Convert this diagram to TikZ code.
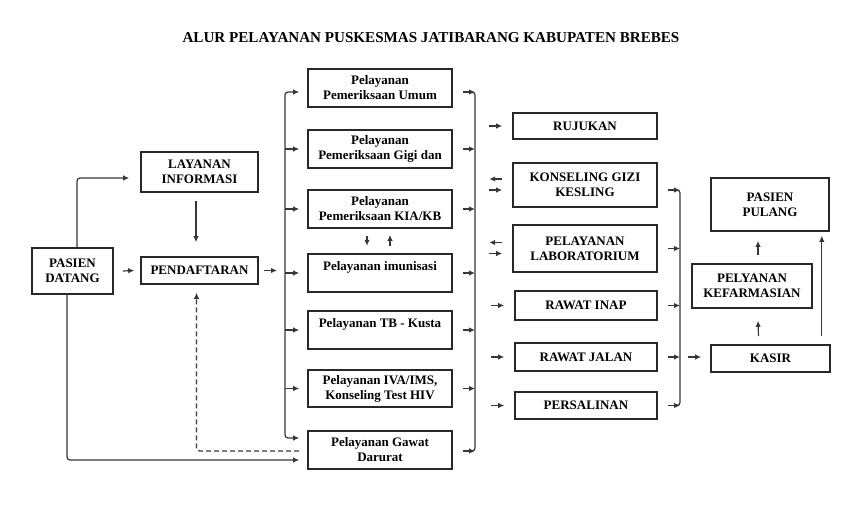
\documentclass[tikz,border=0pt]{standalone}
\usepackage{fontspec}
\setmainfont{Liberation Serif}
\usepackage{xcolor}
\definecolor{boxline}{RGB}{40,40,40}
\definecolor{arrline}{RGB}{55,55,55}
\usetikzlibrary{positioning, arrows.meta}

\begin{document}
\begin{tikzpicture}[
    % GLOBAL CFG
    x=1pt, y=-1pt,
    font=\fontsize{13}{15}\selectfont\bfseries,
    >={Latex[length=6pt,width=5.5pt]},
    % Styles
    unit/.style={% For the service boxes
        rectangle,
        draw=boxline,
        line width=1.6pt,
        align=center,
        inner sep=1pt,
        minimum width=144pt,
        },
    flow/.style={% Connectors
        draw=arrline,
        line width=1.2pt,
        rounded corners=3pt,
        },
    ]
    \useasboundingbox (0,0) rectangle (857,521);

    % Title
    \node [font=\fontsize{15.1}{17}\selectfont\bfseries] (title) at (431,38)
        {ALUR PELAYANAN PUSKESMAS JATIBARANG KABUPATEN BREBES};

    % Entry column
    \node [unit, minimum width=81pt, minimum height=46pt] (pasien) at (72.5,271) {PASIEN\\DATANG};
    \node [unit, minimum width=117pt, minimum height=40pt] (info) at (199.5,172) {LAYANAN\\INFORMASI};
    \node [unit, minimum width=117pt, minimum height=27pt] (daftar) at (199.5,270.5) {PENDAFTARAN};

    % Services named by their unit
    \node [unit, minimum height=38pt] (umum) at (380,88) {Pelayanan\\Pemeriksaan Umum};
    \node [unit, minimum height=38pt] (gigi) at (380,149) {Pelayanan\\Pemeriksaan Gigi dan};
    \node [unit, minimum height=38pt] (kia) at (380,209) {Pelayanan\\Pemeriksaan KIA/KB};
    \node [unit, minimum height=38pt, text depth=14pt] (imun) at (380,273) {Pelayanan imunisasi};
    \node [unit, minimum height=38pt, text depth=14pt] (tb) at (380,330) {Pelayanan TB - Kusta};
    \node [unit, minimum height=37pt] (iva) at (380,388.5) {Pelayanan IVA/IMS,\\Konseling Test HIV};
    \node [unit, minimum height=38pt] (gawat) at (380,450) {Pelayanan Gawat\\Darurat};

    % Follow-up units
    \node [unit, minimum height=26pt] (rujukan) at (585,126) {RUJUKAN};
    \node [unit, minimum height=44pt] (gizi) at (585,185) {KONSELING GIZI\\KESLING};
    \node [unit, minimum height=47pt] (lab) at (585,248.5) {PELAYANAN\\LABORATORIUM};
    \node [unit, minimum width=142pt, minimum height=29pt] (inap) at (586,305.5) {RAWAT INAP};
    \node [unit, minimum width=142pt, minimum height=28pt] (jalan) at (586,357) {RAWAT JALAN};
    \node [unit, minimum width=142pt, minimum height=27pt] (salin) at (586,405.5) {PERSALINAN};

    % Exit column
    \node [unit, minimum width=119pt, minimum height=27pt] (kasir) at (770.5,358.5) {KASIR};
    \node [unit, minimum width=120pt, minimum height=44pt] (farmasi) at (752,286) {PELYANAN\\KEFARMASIAN};
    \node [unit, minimum width=118pt, minimum height=53pt] (pulang) at (770,204.5) {PASIEN\\PULANG};

    % Bus lines
    \coordinate (lbus) at (285,0);
    \coordinate (mbus) at (475,0);
    \coordinate (rbus) at (680,0);

% Start connecting all.
    % Entry
    \draw [->, flow] ([xshift=4.5pt]pasien.north) |- ([xshift=-11pt,yshift=-6pt]info.west);
    \draw [->, flow] ([xshift=-3.5pt,yshift=-8pt]info.south) -- ([xshift=-3.5pt,yshift=14pt]daftar.north);
    \draw [->, flow] ([xshift=9pt]pasien.east) -- ([xshift=-6pt]daftar.west);
    \draw [->, flow] ([xshift=5pt]daftar.east) -- ([xshift=-8pt]daftar.east -| lbus);
    \draw [->, flow, dash pattern=on 5pt off 3pt] ([xshift=-8pt,yshift=-1pt]gawat.west) -| ([xshift=-3pt,yshift=-8pt]daftar.south);
    \draw [->, flow] ([xshift=-5.5pt]pasien.south) |- ([xshift=-8pt,yshift=-10pt]gawat.west);

    % Left bus to services
    \draw [<->, flow] ([xshift=-8pt,yshift=-4pt]umum.west) -| ([yshift=12pt]gawat.west -| lbus)
        -- ([xshift=-8pt,yshift=12pt]gawat.west);
    \foreach \n in {gigi,kia,imun,tb,iva}
        \draw [->, flow] (\n.west -| lbus) -- ([xshift=-8pt]\n.west);

    % KIA and imunisasi
    \draw [->, flow] ([xshift=-13pt,yshift=-7pt]kia.south) -- ([xshift=-13pt,yshift=-17pt]kia.south);
    \draw [->, flow] ([xshift=10pt,yshift=-17pt]kia.south) -- ([xshift=10pt,yshift=-6pt]kia.south);

    % Services to middle bus
    \draw [flow] ([yshift=-4pt,xshift=-5pt]umum.east -| mbus) -| ([yshift=-1pt]gawat.east -| mbus)
        -- ([yshift=-1pt,xshift=-5pt]gawat.east -| mbus);
    \draw [->, flow] ([xshift=10pt,yshift=-4pt]umum.east) -- ([yshift=-4pt]umum.east -| mbus);
    \draw [->, flow] ([xshift=10pt,yshift=-1pt]gawat.east) -- ([yshift=-1pt]gawat.east -| mbus);
    \foreach \n in {gigi,kia,imun,tb,iva}
        \draw [->, flow] ([xshift=10pt]\n.east) -- (\n.east -| mbus);

    % Into follow-up units
    \foreach \n in {rujukan,inap,jalan,salin}
        \draw [->, flow] ([xshift=-23pt]\n.west) -- ([xshift=-10pt]\n.west);
    \foreach \n in {gizi,lab}{
        \draw [->, flow] ([xshift=-10pt,yshift=6pt]\n.west) -- ([xshift=-23pt,yshift=6pt]\n.west);
        \draw [->, flow] ([xshift=-23pt,yshift=-5pt]\n.west) -- ([xshift=-10pt,yshift=-5pt]\n.west);
    }

    % Follow-up units to right bus
    \draw [flow] ([yshift=-5pt,xshift=-5pt]gizi.east -| rbus) -| (salin.east -| rbus)
        -- ([xshift=-5pt]salin.east -| rbus);
    \draw [->, flow] ([xshift=10pt,yshift=-5pt]gizi.east) -- ([yshift=-5pt]gizi.east -| rbus);
    \foreach \n in {lab,inap,jalan,salin}
        \draw [->, flow] ([xshift=10pt]\n.east) -- (\n.east -| rbus);

    % Exit
    \draw [->, flow] ([xshift=8pt]jalan.east -| rbus) -- ([xshift=-9pt]kasir.west |- jalan.east);
    \draw [->, flow] ([xshift=-12pt,yshift=8pt]kasir.north) -- ([xshift=6pt,yshift=-12pt]farmasi.south);
    \draw [->, flow] ([xshift=6pt,yshift=8pt]farmasi.north) -- ([xshift=-12pt,yshift=-9pt]pulang.south);
    \draw [->, flow] ([xshift=-9pt,yshift=8pt]kasir.north east) -- ([xshift=-8pt,yshift=-4pt]pulang.south east);

\end{tikzpicture}
\end{document}
